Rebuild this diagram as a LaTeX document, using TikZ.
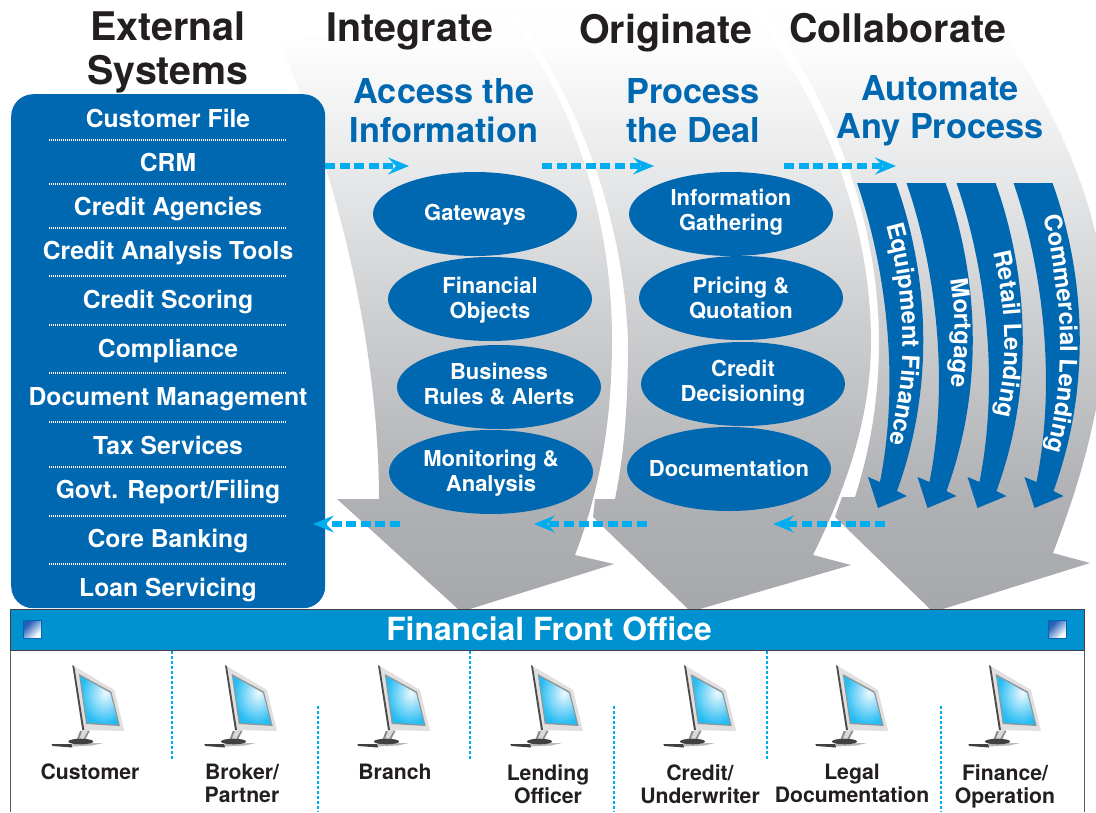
\documentclass[tikz,border=0pt]{standalone}
\usepackage{fontspec}
\setmainfont{TeX Gyre Heros}
\usetikzlibrary{arrows.meta,shapes.geometric,decorations.text}
\definecolor{boxblue}{HTML}{0067B1}
\definecolor{barblue}{HTML}{0091D1}
\definecolor{cyanarrow}{HTML}{00AEEF}
\definecolor{headblack}{HTML}{231F20}
\pgfdeclareverticalshading{arrowgray}{100bp}{
  rgb(0bp)=(0.655,0.659,0.671);
  rgb(25bp)=(0.655,0.659,0.671);
  rgb(34bp)=(0.690,0.694,0.706);
  rgb(50bp)=(0.815,0.819,0.827);
  rgb(60bp)=(0.900,0.904,0.908);
  rgb(67bp)=(0.955,0.957,0.960);
  rgb(71bp)=(0.990,0.990,0.992);
  rgb(75bp)=(1,1,1); rgb(100bp)=(1,1,1)}
\pgfdeclareradialshading{screenglow}{\pgfpoint{8bp}{8bp}}{
  rgb(0bp)=(0.93,0.98,1);
  rgb(12bp)=(0.62,0.88,0.98);
  rgb(30bp)=(0.15,0.74,0.95);
  rgb(100bp)=(0.05,0.68,0.93)}
\pgfdeclarehorizontalshading{squareglow}{100bp}{
  rgb(0bp)=(0.15,0.38,0.72); rgb(30bp)=(0.15,0.38,0.72);
  rgb(70bp)=(0.97,0.98,1); rgb(100bp)=(0.97,0.98,1)}
\tikzset{
  grayarrow/.style={shading=arrowgray},
  bigoval/.style={ellipse,fill=boxblue,minimum width=204pt,minimum height=84pt,inner sep=0pt},
  ovaltext/.style={text=white,inner sep=0pt,align=center,font=\bfseries\fontsize{22}{24.7}\selectfont},
  headtext/.style={text=headblack,align=center,inner sep=0pt,font=\bfseries\fontsize{39.4}{44}\selectfont},
  subtext/.style={text=boxblue,align=center,inner sep=0pt,font=\bfseries\fontsize{34.3}{38.5}\selectfont},
  listtext/.style={text=white,anchor=base,inner sep=0pt,font=\bfseries\fontsize{24.7}{26}\selectfont},
  listsep/.style={white,line width=1.1pt,dash pattern=on 1pt off 1pt},
  flowarrow/.style={cyanarrow,line width=5.2pt,dash pattern=on 10pt off 4.6pt,-{Stealth[length=21pt,width=17pt,inset=8pt]}},
  banddown/.style={fill=boxblue},
  deskline/.style={cyanarrow,line width=2.8pt,dash pattern=on 3pt off 2pt},
  desklabel/.style={text=headblack,align=center,anchor=north,inner sep=0pt,font=\bfseries\fontsize{21.2}{23}\selectfont},
  cornerbox/.style={draw=boxblue,line width=1.2pt,shading=squareglow,shading angle=-45},
  bandtext/.style={decorate,decoration={text along path,text align=center,text color=white,text={|\bfseries\fontsize{24}{25}\selectfont|#1}}}
}
\newcommand{\bandpath}{(857,183) -- (896,183) .. controls (922,255) and (941,370) .. (897,491) -- (907,496) -- (878,508) -- (868,477) -- (880,482) .. controls (902,370) and (882,255) .. (857,183) -- cycle}
\begin{document}
\begin{tikzpicture}[x=1pt,y=-1pt]
\useasboundingbox (0,0) rectangle (1096,812);
\begin{scope}
\clip (0,0) rectangle (1096,812);
% big gray arrows
\shade[grayarrow] (757,0) .. controls (810,70) and (878,190) .. (879,340) .. controls (879,400) and (870,450) .. (855,497) -- (842,497) -- (835,517) -- (930,609) -- (943,609) -- (1090,563) -- (1053,553) .. controls (1085,470) and (1110,380) .. (1104,290) .. controls (1098,190) and (1040,80) .. (980,0) -- cycle;
\shade[grayarrow] (505,0) .. controls (560,70) and (622,190) .. (628,340) .. controls (628,400) and (625,450) .. (615,499) -- (595,499) -- (593,517) -- (688,609) -- (700,609) -- (851,565) -- (813,555) .. controls (845,490) and (871,420) .. (871,340) .. controls (870,190) and (800,70) .. (745,0) -- cycle;
\shade[grayarrow] (280,43) -- (497,0) .. controls (555,70) and (612,190) .. (612,340) .. controls (612,420) and (600,490) .. (575,555) -- (614,564) -- (470,609) -- (458,609) -- (337,499) -- (379,499) .. controls (379,400) and (360,230) .. (280,43) -- cycle;
\end{scope}
% left list box
\node[fill=boxblue,rounded corners=22pt,minimum width=314pt,minimum height=514pt,inner sep=0pt,anchor=north west] (extbox) at (11,94) {};
\foreach \n/\lab/\y in {a/Customer File/127,b/CRM/171,c/Credit Agencies/215,d/Credit Analysis Tools/259.5,e/Credit Scoring/308,f/Compliance/357,g/Document Management/405,h/Tax Services/454,i/Govt. Report\slash Filing/498,j/Core Banking/547,k/Loan Servicing/596}
  \node[listtext] (item\n) at (168,\y) {\lab};
\foreach \y in {140,184,228,276,325,373,422,467,516,564}
  \draw[listsep] (49,\y) -- (286,\y);
% headings
\node[headtext] (hext) at (168,52.5) {External\\Systems};
\node[headtext] (hint) at (410,31) {Integrate};
\node[headtext] (hori) at (665.5,33) {Originate};
\node[headtext] (hcol) at (897.5,28) {Collaborate};
\node[subtext] (sacc) at (444,110.5) {Access the\\Information};
\node[subtext] (spro) at (693,110.5) {Process\\the Deal};
\node[subtext] (saut) at (940,110.5) {Automate\\Any Process};
% ovals
\node[bigoval] (o1) at (475,214) {};
\node[bigoval] (o2) at (490,299) {};
\node[bigoval] (o3) at (499,387) {};
\node[bigoval] (o4) at (491,472) {};
\node[bigoval] (p1) at (731,214) {};
\node[bigoval] (p2) at (741,298) {};
\node[bigoval] (p3) at (743,384) {};
\node[bigoval] (p4) at (729,469) {};
\node[ovaltext] (to1) at ([yshift=-1pt]o1) {Gateways};
\node[ovaltext] (to2) at ([yshift=-1pt]o2) {Financial\\Objects};
\node[ovaltext] (to3) at ([yshift=3pt]o3) {Business\\Rules \& Alerts};
\node[ovaltext] (to4) at ([yshift=-1pt]o4) {Monitoring \&\\Analysis};
\node[ovaltext] (tp1) at ([yshift=1.5pt]p1) {Information\\Gathering};
\node[ovaltext] (tp2) at (p2) {Pricing \&\\Quotation};
\node[ovaltext] (tp3) at ([yshift=1pt]p3) {Credit\\Decisioning};
\node[ovaltext] (tp4) at ([yshift=1pt]p4) {Documentation};
% blue bands
\fill[banddown] \bandpath;
\fill[banddown,xshift=49.5pt] \bandpath;
\fill[banddown,xshift=99.5pt] \bandpath;
\fill[banddown,xshift=156.5pt] \bandpath;
\path[bandtext=Equipment Finance] (885,222) .. controls (905,290) and (910,370) .. (888,447);
\path[bandtext=Mortgage] (950,278) .. controls (956,310) and (956,350) .. (950,388);
\path[bandtext=Retail Lending] (993,250) .. controls (1005,300) and (1010,360) .. (996,418);
\path[bandtext=Commercial Lending] (1043,215) .. controls (1062,290) and (1068,380) .. (1046,452);
% flow arrows
\coordinate (f1a) at (325,166); \coordinate (f1b) at (409,166);
\coordinate (f2a) at (542,166); \coordinate (f2b) at (654,166);
\coordinate (f3a) at (784,166); \coordinate (f3b) at (896,166);
\coordinate (r1a) at (885,524); \coordinate (r1b) at (773,524);
\coordinate (r2a) at (647,524); \coordinate (r2b) at (534,524);
\coordinate (r3a) at (400,524); \coordinate (r3b) at (313,524);
\draw[flowarrow] (f1a) -- (f1b);
\draw[flowarrow] (f2a) -- (f2b);
\draw[flowarrow] (f3a) -- (f3b);
\draw[flowarrow] (r1a) -- (r1b);
\draw[flowarrow] (r2a) -- (r2b);
\draw[flowarrow] (r3a) -- (r3b);
% front office panel
\fill[white] (10,650) rectangle (1084,812);
\draw[black!65,line width=1pt] (10,650) -- (10,812);
\draw[black!65,line width=1pt] (1084,650) -- (1084,812);
\node[fill=barblue,draw=black!75,line width=0.9pt,minimum width=1074pt,minimum height=41pt,inner sep=0pt,anchor=north west] (bar) at (10,609) {};
\node[text=white,inner sep=0pt,font=\bfseries\fontsize{31.8}{34}\selectfont] (bartext) at (549,629) {Financial Front Office};
\path[cornerbox] (23.5,620.5) rectangle (41.5,638.5);
\path[cornerbox] (1048.5,620.5) rectangle (1066.5,638.5);
% monitors
\foreach \mx in {72.3,225,378,531,684,836,989}{
\begin{scope}[shift={(\mx,665)}]
  \fill[black!28] (0,78) -- (31,78) -- (20,80.5) -- (0,81.5) -- cycle;
  \fill[black!45] (7.7,66) -- (17.7,65.5) -- (12.7,75) -- (4.3,75) -- cycle;
  \fill[black!15] (10,66) -- (15.5,66) -- (10.5,75) -- (6.5,75) -- cycle;
  \fill[black!75] (8.5,76.5) ellipse (12.5 and 2.8);
  \fill[black!75] (-20.7,79) -- (-0.7,79) -- (0,82.5) -- (-19.7,81) -- cycle;
  \fill[black!12] (0,0) -- (42,25) -- (52,66) -- (10,65) -- cycle;
  \fill[black!70] (0,0) -- (2,1.5) -- (12,65) -- (10,65) -- cycle;
  \fill[black!42] (6.7,9) -- (39,26.7) -- (47.7,61) -- (13.7,59) -- cycle;
  \shade[shading=screenglow] (8,11.2) -- (38,28) -- (46.2,59.7) -- (14.8,57.8) -- cycle;
\end{scope}}
% desk separators
\foreach \n/\dx/\ya/\yb in {a/172/651/760,b/318/706/812,c/470/651/760,d/614/706/812,e/767/651/760,f/941/706/812}{
  \coordinate (d\n1) at (\dx,\ya); \coordinate (d\n2) at (\dx,\yb);
  \draw[deskline] (d\n1) -- (d\n2);}
% desk labels
\node[desklabel] (l1) at (90,764) {Customer};
\node[desklabel] (l2) at (242,764) {Broker/\\Partner};
\node[desklabel] (l3) at (395,764) {Branch};
\node[desklabel] (l4) at (548,764) {Lending\\Officer};
\node[desklabel] (l5) at (700,764) {Credit/\\Underwriter};
\node[desklabel] (l6) at (852,764) {Legal\\Documentation};
\node[desklabel] (l7) at (1005,764) {Finance/\\Operation};
\end{tikzpicture}
\end{document}
